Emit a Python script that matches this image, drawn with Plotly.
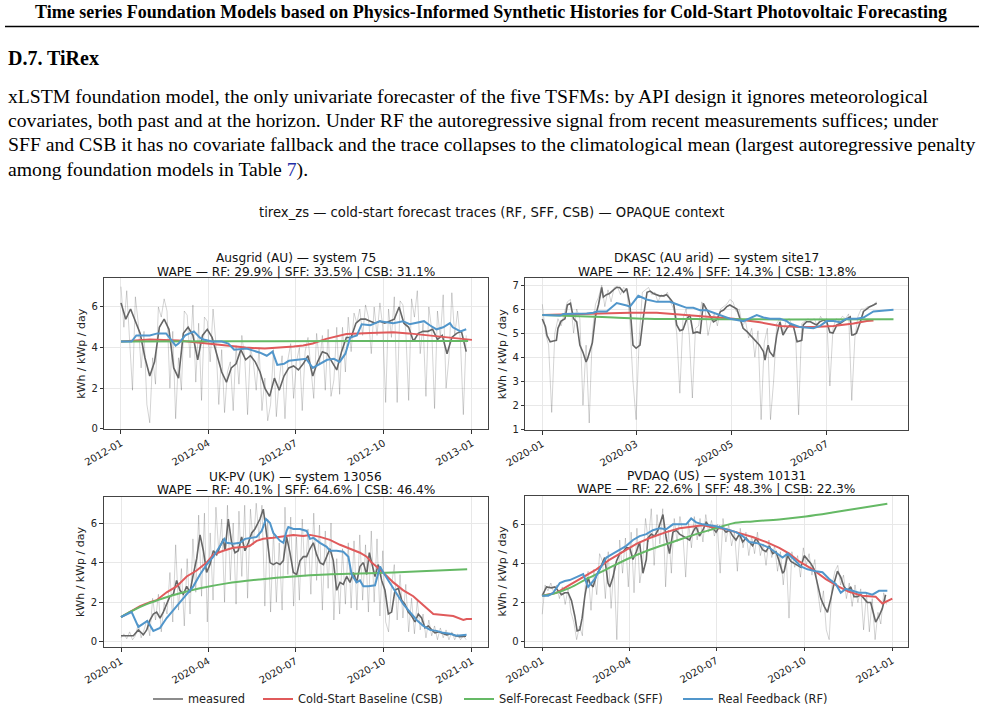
import pandas as pd
import plotly.graph_objects as go

# ------------------------------------------------------------------ data
P1_START = "2012-01-01"
P1_LIGHT = [7.0, 5.0, 6.8, 4.2, 1.9, 6.5, 5.2, 3.0, 4.8, 1.2, 0.3, 3.5, 2.2, 6.0, 5.5, 6.4, 5.8, 2.0, 4.8, 0.5,
            3.5, 1.9, 5.8, 5.6, 3.5, 6.1, 2.3, 5.2, 1.4, 5.5, 5.3, 3.3, 5.9, 4.2, 1.2, 3.9, 0.8, 2.8, 3.3, 0.9,
            4.1, 2.2, 4.6, 3.5, 0.7, 4.0, 3.3, 1.9, 4.0, 0.9, 2.5, 0.4, 1.2, 3.9, 0.6, 2.4, 3.6, 0.5, 3.4, 4.2,
            1.5, 3.3, 4.0, 0.9, 3.8, 4.5, 3.1, 1.5, 4.7, 3.2, 4.6, 1.9, 4.9, 1.6, 2.4, 5.0, 1.7, 5.0, 2.8, 5.5,
            3.8, 5.7, 5.2, 5.9, 4.6, 6.1, 5.5, 3.7, 6.0, 4.6, 6.2, 5.0, 1.3, 5.9, 4.5, 6.5, 1.3, 6.3, 6.1, 4.8,
            1.4, 6.4, 5.5, 6.8, 3.7, 5.2, 1.6, 6.0, 4.9, 1.0, 5.8, 4.5, 6.6, 2.0, 3.5, 6.7, 4.6, 5.8, 4.3, 0.7,
            4.6]
P1_LIGHT_STEP = 3
P1_DARK = [6.2, 5.4, 5.9, 5.3, 4.7, 3.5, 2.6, 3.3, 5.0, 5.4, 4.9, 3.0, 2.5, 4.7, 5.0, 4.6, 3.4, 4.6, 4.9, 4.5,
           3.6, 2.8, 2.3, 3.0, 3.2, 3.9, 3.4, 3.6, 3.3, 2.8, 2.0, 1.6, 2.5, 1.9, 2.6, 3.0, 3.1, 2.9, 3.2, 3.6,
           2.6, 3.3, 3.8, 3.7, 3.3, 2.9, 3.8, 4.5, 4.5, 5.2, 5.4, 5.4, 5.3, 5.2, 5.3, 5.2, 5.3, 5.4, 6.0, 5.2,
           5.0, 4.3, 4.7, 4.8, 4.8, 4.9, 4.4, 4.6, 3.7, 4.5, 4.7, 4.8, 3.8]
P1_DARK_STEP = 5
P1_RF_DAYS = [0, 11, 16, 30, 38, 47, 52, 57, 60, 67, 76, 82, 86, 95, 105, 112, 118, 131, 138, 145,
              152, 158, 163, 170, 175, 186, 193, 200, 207, 215, 222, 228, 234, 239, 246, 251, 260, 270, 284, 294,
              301, 312, 316, 322, 329, 336, 343, 346, 354, 360]
P1_RF = [4.3, 4.3, 4.6, 4.6, 4.7, 4.7, 4.4, 4.1, 4.2, 4.6, 4.8, 4.5, 4.4, 4.3, 4.3, 4.2, 3.9, 3.95, 3.85, 3.75,
         3.6, 3.8, 3.15, 3.2, 3.35, 3.4, 3.45, 3.0, 3.2, 3.4, 3.45, 3.3, 3.7, 4.5, 4.6, 5.15, 5.1, 5.3, 5.2, 5.3,
         5.15, 5.25, 5.3, 5.1, 4.9, 5.0, 5.2, 5.0, 4.8, 4.9]
P1_CSB_DAYS = [0, 30, 60, 90, 110, 130, 150, 170, 180, 190, 200, 214, 235, 260, 284, 300, 319, 340, 366]
P1_CSB = [4.3, 4.4, 4.35, 4.2, 4.1, 4.0, 3.95, 4.0, 4.05, 4.1, 4.2, 4.43, 4.67, 4.72, 4.75, 4.7, 4.6, 4.5, 4.38]
P1_SFF_DAYS = [0, 120, 240, 362]
P1_SFF = [4.3, 4.31, 4.32, 4.33]

P2_START = "2020-01-01"
P2_LIGHT = [6.2, 5.0, 4.5, 1.7, 5.0, 5.6, 5.3, 5.8, 6.3, 6.4, 5.0, 6.0, 5.6, 2.0, 4.5, 1.26, 5.0, 6.2, 6.5, 6.99,
            6.1, 6.8, 6.3, 6.9, 6.95, 6.6, 6.9, 6.8, 5.5, 3.0, 1.4, 4.8, 6.7, 6.8, 6.9, 6.6, 6.7, 6.3, 6.6, 6.5,
            6.7, 6.3, 6.0, 5.0, 2.5, 5.6, 6.0, 4.9, 2.3, 5.2, 5.3, 6.3, 6.1, 4.9, 5.5, 5.8, 5.3, 6.0, 6.1, 6.2,
            6.4, 6.3, 5.9, 6.0, 5.3, 5.5, 4.8, 5.2, 4.0, 5.1, 1.4, 4.6, 5.2, 1.4, 3.0, 5.4, 5.6, 5.0, 5.5, 5.6,
            5.3, 5.0, 1.6, 5.4, 5.5, 5.6, 5.5, 5.6, 5.3, 5.7, 5.5, 5.6, 2.8, 5.2, 5.6, 5.5, 5.7, 5.6, 5.8, 2.2,
            4.8, 5.7, 6.0, 6.0, 6.1, 6.1, 6.2, 6.3]
P2_LIGHT_STEP = 2
P2_DARK_DAYS = [0, 2, 3, 5, 7, 9, 10, 12, 14.5, 16, 18, 20, 22, 24, 26, 28, 29, 32, 34, 36,
                38, 39, 41, 43, 45.5, 47.5, 49.5, 52, 54, 56, 58, 60, 62.5, 64.5, 67, 69, 71, 73, 75, 77.5,
                79.5, 81.5, 84, 86, 88, 90, 92.5, 94.5, 96.5, 99, 101, 103, 105, 107, 109.5, 111.5, 114, 116, 118, 120,
                122, 124.5, 126.5, 128.5, 131, 133, 135, 137, 139, 141.5, 142.5, 143.5, 144.5, 145.5, 148, 150, 152,
                154, 156.5, 158.5, 160.5, 163, 165, 166, 167, 169, 171.5, 173.5, 175.5, 177.5, 180, 182, 184, 186,
                188.5, 190.5, 192.5, 195, 197, 198, 199, 201, 203.5, 205.5, 207.5, 209.5, 212, 214]
P2_DARK = [5.59, 5.27, 4.9, 4.64, 4.67, 4.7, 5.2, 5.5, 5.6, 6.17, 6.24, 5.6, 5.47, 4.5, 4.2, 3.8, 3.95, 4.6, 5.7, 6.2,
           6.9, 6.5, 6.6, 6.65, 6.8, 6.9, 6.9, 6.7, 6.85, 6.2, 4.5, 4.37, 4.5, 5.6, 6.7, 6.75, 6.65, 6.6, 6.55, 6.55,
           6.6, 6.45, 6.24, 5.34, 5.1, 5.15, 5.6, 5.75, 5.0, 5.05, 5.0, 6.24, 6.0, 5.75, 5.47, 5.55, 5.9, 5.96, 6.1,
           6.17, 6.1, 6.0, 5.6, 5.2, 5.06, 4.92, 4.78, 4.64, 4.5, 4.23, 3.88, 4.23, 4.5, 4.23, 4.02, 4.92, 5.47,
           4.92, 5.2, 5.34, 5.34, 4.64, 4.7, 4.7, 5.34, 5.47, 5.47, 5.4, 5.34, 5.47, 5.54, 5.47, 5.03, 5.0, 5.34,
           5.4, 5.5, 5.6, 5.68, 4.92, 4.92, 5.0, 5.47, 5.9, 6.0, 6.1, 6.17, 6.24]
P2_RF_DAYS = [0, 11.3, 13.4, 24.1, 28.4, 32.6, 34.8, 41.2, 47.6, 54, 56.1, 61.4, 66.8, 73.2, 81.7, 86, 92.4, 96.6,
              100.9, 105.2, 109.5, 113.7, 120.1, 128.7, 137.2, 141.5, 145.7, 152.1, 156.4, 158.5, 164.9, 173.5,
              177.7, 182, 186.3, 190.5, 194.8, 201.2, 205.5, 211.9, 220.4, 224.7]
P2_RF = [5.75, 5.73, 5.8, 5.8, 5.82, 5.85, 5.9, 5.9, 6.25, 6.15, 6.1, 6.55, 6.4, 6.3, 6.3, 6.2, 6.05, 6.05,
         5.95, 5.95, 5.85, 5.75, 5.6, 5.5, 5.75, 5.65, 5.6, 5.6, 5.5, 5.4, 5.25, 5.2,
         5.3, 5.5, 5.5, 5.45, 5.6, 5.6, 5.65, 5.9, 5.95, 5.97]
P2_CSB_DAYS = [0, 15.6, 30.5, 56.1, 73.2, 92.4, 105.2, 122.3, 139.3, 152.1, 164.9, 173.5, 186.3, 199.1, 207.6, 211.9]
P2_CSB = [5.75, 5.78, 5.8, 5.85, 5.85, 5.75, 5.7, 5.6, 5.45, 5.3, 5.25, 5.25, 5.3, 5.4, 5.5, 5.52]
P2_SFF_DAYS = [0, 24, 45.5, 67, 109.5, 152, 224.7]
P2_SFF = [5.75, 5.7, 5.65, 5.6, 5.58, 5.57, 5.58]

P3_START = "2020-01-01"
P3_LIGHT = [0.2, 0.4, 0.15, 0.5, 0.1, 0.3, 0.9, 0.2, 0.6, 1.1, 0.3, 2.2, 1.1, 2.4, 0.5, 2.0, 1.4, 3.5, 1.0, 4.9,
            1.6, 3.7, 0.8, 4.2, 1.4, 5.2, 2.5, 6.4, 2.3, 6.5, 1.0, 5.5, 2.1, 6.8, 4.5, 6.2, 2.0, 6.9, 3.1, 6.0,
            1.9, 6.6, 3.3, 6.9, 2.2, 6.7, 4.9, 7.0, 5.2, 6.9, 1.8, 6.2, 1.5, 5.6, 2.0, 5.0, 1.6, 6.8, 3.4, 6.3,
            1.8, 5.3, 2.1, 6.2, 3.3, 5.7, 2.4, 6.5, 3.1, 5.9, 1.6, 5.6, 2.7, 6.0, 1.1, 4.2, 1.4, 4.7, 1.9, 5.0,
            1.7, 5.1, 1.6, 5.4, 2.1, 4.9, 1.5, 5.6, 2.0, 5.2, 1.3, 4.6, 1.0, 0.5, 2.8, 3.9, 1.1, 3.4, 1.2, 2.9,
            0.5, 2.2, 0.4, 2.1, 0.6, 1.4, 0.2, 1.1, 0.3, 0.8, 0.1, 0.7, 0.2, 0.6, 0.1, 0.5, 0.1, 0.4, 0.1, 0.3,
            0.1]
P3_LIGHT_STEP = 3
P3_DARK_DAYS = [0, 12.9, 18.1, 23.3, 26.8, 30.2, 33.7, 37.2, 40.7, 44.1, 47.6, 51.1, 54.6, 58, 61.5, 65, 68.5, 71.9,
                75.4, 78.9, 82.4, 85.9, 89.3, 92.8, 96.3, 99.8, 103.2, 106.7, 108.4, 111.9, 115.4, 118.9, 122.3,
                125.8, 129.3, 132.8, 136.3, 139.7, 144.9, 148.4, 151.9, 155.4, 158.8, 162.3, 165.8, 169.3, 172.7,
                176.2, 179.7, 183.2, 186.7, 190.1, 193.6, 197.1, 200.6, 204, 207.5, 211, 214.5, 217.9, 221.4, 224.9,
                228.4, 231.8, 235.3, 238.8, 242.3, 245.7, 249.2, 252.7, 256.2, 259, 261.4, 264.9, 268.3, 271.8,
                275.3, 278.8, 282.2, 285.7, 289.2, 292.7, 296.1, 299.6, 303.1, 306.6, 310, 313.5, 317, 320.5, 324,
                327.4, 330.9, 336.1, 339.6, 344.8, 348.3, 353.5, 359.8]
P3_DARK = [0.3, 0.3, 0.6, 0.35, 0.6, 1.1, 1.4, 1.5, 1.2, 1.5, 1.9, 2.3, 2.4, 3.1, 2.6, 2.4, 2.8, 2.5, 3.4, 4.2,
           5.4, 4.6, 3.5, 3.9, 4.6, 4.4, 4.8, 5.2, 4.6, 6.2, 5.0, 4.5, 4.6, 5.3, 4.6, 5.0, 5.5, 5.7, 6.2, 6.7,
           5.4, 4.0, 3.9, 4.0, 3.9, 4.1, 5.3, 4.5, 3.5, 3.4, 4.1, 4.3, 4.3, 4.7, 5.0, 4.4, 4.0, 3.9, 4.3, 4.7,
           4.1, 2.6, 3.0, 2.9, 3.3, 3.0, 3.5, 3.0, 3.8, 4.0, 3.4, 4.5, 4.0, 3.3, 3.9, 3.1, 2.6, 1.4, 1.5, 2.6,
           2.7, 2.1, 1.9, 1.5, 1.3, 1.0, 1.4, 1.2, 0.7, 0.8, 0.6, 0.45, 0.5, 0.4, 0.35, 0.4, 0.3, 0.25, 0.28]
P3_RF_DAYS = [0, 11.1, 18.1, 27.5, 33.7, 40.7, 47.6, 54.6, 61.5, 68.5, 75.4, 82.4, 89.3, 96.3, 103.2, 107.8, 110.2,
              117.1, 124.1, 129.3, 136.3, 141.5, 146.7, 151.2, 155.4, 158.8, 165.8, 169.3, 172.7, 174.5, 179.7,
              186.7, 193.6, 197.1, 200.6, 207.5, 214.5, 217.9, 224.9, 231.8, 237.1, 240.5, 245.7, 249.2, 252.7,
              257.9, 264.9, 270.1, 273.6, 278.8, 284, 289.2, 294.4, 301.4, 308.3, 315.3, 322.2, 329.2, 336.1,
              343.1, 350, 360.4]
P3_RF = [1.25, 1.5, 0.75, 1.05, 0.55, 0.7, 1.2, 1.6, 2.0, 2.4, 2.8, 3.4, 3.9, 4.3, 4.8, 5.2, 5.0,
         4.95, 5.0, 5.2, 5.25, 5.3, 5.6, 6.2, 6.0, 5.5, 5.1, 5.0, 5.6, 5.8, 5.7,
         5.7, 5.6, 5.2, 5.25, 5.0, 4.8, 4.6, 4.6, 4.55, 4.3, 3.4, 3.0, 3.1, 2.8,
         2.8, 2.85, 3.8, 3.5, 3.1, 2.7, 2.3, 1.9, 1.5, 1.1, 0.8, 0.6, 0.55, 0.45,
         0.4, 0.3, 0.35]
P3_CSB_DAYS = [0, 11.1, 19.8, 30.2, 37.2, 47.6, 58, 68.5, 78.9, 89.3, 96.3, 106.7, 117.1, 131, 134.5, 141.5, 148.4,
               158.8, 165.8, 179.7, 190.1, 197.1, 207.5, 217.9, 228.4, 238.8, 249.2, 256.2, 261.4, 270.1, 277, 284,
               294.4, 304.8, 311.8, 318.7, 325.7, 336.1, 346.5, 357, 360.4, 366]
P3_CSB = [1.25, 1.55, 1.8, 2.0, 2.1, 2.5, 2.8, 3.3, 3.6, 4.0, 4.4, 4.6, 4.75, 4.8, 4.85, 5.1, 5.2,
          5.25, 5.3, 5.4, 5.35, 5.4, 5.3, 5.15, 4.9, 4.7, 4.5, 4.3, 4.0, 3.65, 3.3, 3.0,
          2.6, 2.3, 2.0, 1.7, 1.4, 1.35, 1.3, 1.1, 1.15, 1.15]
P3_SFF_DAYS = [0, 11.1, 26.8, 44.1, 61.5, 82.4, 110.2, 144.9, 179.7, 214.5, 249.2, 284, 318.7, 361]
P3_SFF = [1.25, 1.55, 1.9, 2.2, 2.45, 2.7, 2.95, 3.15, 3.3, 3.4, 3.45, 3.5, 3.58, 3.67]

P4_START = "2020-01-01"
P4_LIGHT = [1.4, 2.9, 2.6, 3.0, 2.5, 2.9, 2.2, 2.8, 1.9, 2.7, 1.5, 1.0, 0.1, 0.8, 0.3, 2.9, 3.6, 1.6, 3.7, 2.4,
            4.5, 4.1, 2.2, 4.6, 1.7, 3.9, 0.1, 5.2, 3.5, 5.3, 2.8, 5.6, 2.5, 5.8, 3.0, 4.0, 6.3, 5.1, 6.8, 3.9,
            6.5, 5.0, 6.8, 2.8, 5.7, 3.5, 6.3, 5.1, 6.4, 5.5, 3.3, 6.1, 4.8, 6.4, 5.2, 6.3, 5.1, 6.5, 5.6, 6.2,
            5.4, 6.0, 3.5, 6.3, 5.1, 6.0, 4.9, 5.6, 3.6, 5.8, 4.8, 5.6, 4.4, 5.4, 4.5, 5.6, 4.4, 5.0, 3.9, 5.2,
            4.3, 4.9, 3.6, 4.6, 2.9, 4.5, 1.2, 4.6, 3.8, 4.4, 3.3, 4.8, 3.9, 4.5, 3.4, 4.2, 2.6, 1.5, 2.6, 0.6,
            0.1, 2.9, 3.6, 3.9, 2.9, 3.4, 2.2, 3.0, 1.8, 2.9, 2.0, 2.7, 0.6, 2.5, 0.5, 2.2, 0.1, 1.5, 0.9, 2.5,
            1.9]
P4_LIGHT_STEP = 3
P4_DARK_DAYS = [0, 4.5, 9.7, 13.2, 16.7, 20.2, 23.6, 27.1, 30.6, 34.1, 36.5, 39.3, 41.7, 44.5, 48, 49.7, 53.2, 56.7,
                60.1, 65.3, 68.8, 70.6, 74, 77.5, 81, 84.5, 87.9, 91.4, 94.9, 98.4, 101.8, 105.3, 108.8, 110.5, 114,
                117.5, 121, 126.2, 129.6, 133.1, 136.6, 140.1, 143.6, 147, 150.5, 154, 157.5, 160.9, 164.4, 167.9,
                171.4, 174.8, 178.3, 181.8, 185.3, 188.7, 192.2, 195.7, 199.2, 202.6, 206.1, 209.6, 213.1, 216.5,
                220, 223.5, 227, 230.4, 233.9, 237.4, 240.9, 244.4, 247.8, 251.3, 253, 256.5, 260, 263.5, 266.9,
                270.4, 273.9, 277.4, 280.8, 284.3, 287.8, 291.3, 294.8, 298.2, 301.7, 305.2, 308.7, 312.1, 315.6,
                319.1, 322.6, 326, 329.5, 333, 336.5, 339.9, 343.4, 346.9, 348.6, 352.1, 355.6, 359]
P4_DARK = [2.35, 2.8, 2.75, 2.8, 2.6, 2.4, 2.5, 2.5, 2.1, 1.3, 0.55, 0.6, 1.2, 2.3, 3.3, 3.0, 2.8, 3.4, 3.7, 4.3,
           3.0, 2.8, 3.3, 4.1, 4.5, 4.6, 4.8, 4.8, 4.2, 4.6, 5.1, 3.5, 4.2, 5.3, 5.5, 5.4, 5.7, 6.5, 5.3, 4.5,
           5.6, 5.7, 5.5, 5.4, 5.3, 5.2, 5.6, 5.9, 5.4, 5.7, 6.1, 5.9, 5.8, 5.6, 5.9, 5.8, 5.6, 5.7, 5.4, 5.2,
           5.5, 5.1, 5.3, 5.1, 4.9, 5.3, 5.0, 4.7, 4.6, 4.9, 4.5, 4.6, 4.1, 3.5, 3.6, 4.4, 4.1, 4.0, 3.9, 3.8,
           4.4, 4.2, 4.0, 3.7, 3.0, 2.2, 1.8, 1.5, 2.2, 3.0, 3.6, 3.3, 2.8, 2.6, 2.8, 2.3, 2.3, 2.4, 2.2, 2.0,
           2.0, 1.3, 1.0, 1.3, 1.7, 2.4]
P4_RF_DAYS = [0, 6.3, 11.5, 18.4, 23.6, 28.8, 35.8, 42.8, 48, 54.9, 60.1, 67.1, 74, 81, 87.9, 94.9, 101.8, 108.8,
              115.7, 122.7, 129.6, 136.6, 143.6, 150.5, 155.7, 160.9, 167.9, 174.8, 181.8, 188.7, 195.7, 202.6,
              209.6, 216.5, 223.5, 230.4, 237.4, 244.4, 251.3, 256.5, 263.5, 270.4, 277.4, 286.1, 293, 300, 306.9,
              312.1, 317.3, 324.3, 331.2, 338.2, 345.2, 352.1, 360.8]
P4_RF = [2.35, 2.35, 2.5, 3.0, 3.1, 3.15, 3.3, 3.45, 2.8, 3.2, 3.7, 4.3, 4.5, 4.7, 4.9, 5.2, 5.4, 5.5,
         5.7, 5.8, 5.75, 6.0, 6.0, 6.0, 6.3, 6.1, 6.0, 5.95, 5.9, 5.8, 5.7, 5.6,
         5.4, 5.1, 5.05, 4.95, 4.8, 4.55, 4.3, 4.5, 4.2, 3.85, 3.7, 3.6, 3.55, 3.2, 2.95,
         2.5, 2.7, 2.6, 2.5, 2.5, 2.4, 2.6, 2.6]
P4_CSB_DAYS = [0, 14.9, 28.8, 42.8, 56.7, 70.6, 84.5, 98.4, 112.3, 129.6, 143.6, 157.5, 167.9, 178.3, 192.2, 206.1,
               220, 233.9, 247.8, 258.3, 268.7, 282.6, 296.5, 310.4, 320.8, 334.7, 348.6, 355.6, 366]
P4_CSB = [2.35, 2.5, 2.9, 3.3, 3.7, 4.2, 4.6, 5.0, 5.3, 5.6, 5.8, 5.9, 5.95, 5.85, 5.75, 5.55,
          5.35, 5.1, 4.8, 4.5, 4.1, 3.7, 3.2, 2.8, 2.55, 2.35, 2.3, 1.95, 2.2]
P4_SFF_DAYS = [0, 11.5, 28.8, 46.2, 67.1, 87.9, 112.3, 136.6, 160.9, 181.8, 199.2, 220, 247.8, 275.6, 303.4,
               334.7, 360.8]
P4_SFF = [2.35, 2.45, 2.75, 3.2, 3.7, 4.2, 4.7, 5.1, 5.5, 5.8, 6.05, 6.15, 6.25, 6.4, 6.6, 6.85, 7.05]

PANEL_TITLES = ["Ausgrid (AU) — system 75", "DKASC (AU arid) — system site17",
                "UK-PV (UK) — system 13056", "PVDAQ (US) — system 10131"]
PANEL_WAPE = ["WAPE — RF: 29.9% | SFF: 33.5% | CSB: 31.1%",
              "WAPE — RF: 12.4% | SFF: 14.3% | CSB: 13.8%",
              "WAPE — RF: 40.1% | SFF: 64.6% | CSB: 46.4%",
              "WAPE — RF: 22.6% | SFF: 48.3% | CSB: 22.3%"]
X_TICKS = [["2012-01-01", "2012-04-01", "2012-07-01", "2012-10-01", "2013-01-01"],
           ["2020-01-01", "2020-03-01", "2020-05-01", "2020-07-01"],
           ["2020-01-01", "2020-04-01", "2020-07-01", "2020-10-01", "2021-01-01"],
           ["2020-01-01", "2020-04-01", "2020-07-01", "2020-10-01", "2021-01-01"]]
Y_TICKS = [[0, 2, 4, 6], [1, 2, 3, 4, 5, 6, 7], [0, 2, 4, 6], [0, 2, 4, 6]]
SERIES_NAMES = ["measured", "Cold-Start Baseline (CSB)", "Self-Forecast Feedback (SFF)", "Real Feedback (RF)"]

# ------------------------------------------------------------------ layout helpers
W, H = 986, 711
def px(x):
    return x / W
def py(y):
    return 1 - y / H

def to_dates(start, days):
    return pd.Timestamp(start) + pd.to_timedelta(list(days), unit="D")

def step_days(n, step):
    return [i * step for i in range(n)]

panels = [
    dict(start=P1_START, light=(step_days(len(P1_LIGHT), P1_LIGHT_STEP), P1_LIGHT),
         dark=(step_days(len(P1_DARK), P1_DARK_STEP), P1_DARK),
         csb=(P1_CSB_DAYS, P1_CSB), sff=(P1_SFF_DAYS, P1_SFF), rf=(P1_RF_DAYS, P1_RF),
         box=(104.3, 487.7, 278.3, 429.3), xr=(-17.4, 382.4), yr=(-0.02, 7.41)),
    dict(start=P2_START, light=(step_days(len(P2_LIGHT), P2_LIGHT_STEP), P2_LIGHT),
         dark=(P2_DARK_DAYS, P2_DARK),
         csb=(P2_CSB_DAYS, P2_CSB), sff=(P2_SFF_DAYS, P2_SFF), rf=(P2_RF_DAYS, P2_RF),
         box=(525.3, 907.7, 278.3, 430.0), xr=(-10.9, 233.8), yr=(0.97, 7.28)),
    dict(start=P3_START, light=(step_days(len(P3_LIGHT), P3_LIGHT_STEP), P3_LIGHT),
         dark=(P3_DARK_DAYS, P3_DARK),
         csb=(P3_CSB_DAYS, P3_CSB), sff=(P3_SFF_DAYS, P3_SFF), rf=(P3_RF_DAYS, P3_RF),
         box=(103.5, 487.5, 496.7, 647.3), xr=(-18.25, 382.2), yr=(-0.28, 7.33)),
    dict(start=P4_START, light=(step_days(len(P4_LIGHT), P4_LIGHT_STEP), P4_LIGHT),
         dark=(P4_DARK_DAYS, P4_DARK),
         csb=(P4_CSB_DAYS, P4_CSB), sff=(P4_SFF_DAYS, P4_SFF), rf=(P4_RF_DAYS, P4_RF),
         box=(525.0, 907.7, 496.0, 646.7), xr=(-18.0, 382.1), yr=(-0.26, 7.45)),
]

COL_LIGHT = "rgba(0,0,0,0.22)"
COL_DARK = "#666666"
COL_CSB = "#e05a5b"
COL_SFF = "#65b965"
COL_RF = "#5196cb"
FIG_FONT = "DejaVu Sans"
PAGE_FONT = "Liberation Serif"

fig = go.Figure()
annotations = []

for i, p in enumerate(panels):
    k = "" if i == 0 else str(i + 1)
    xa, ya = "x" + k, "y" + k
    first = i == 0
    d, v = p["light"]
    fig.add_trace(go.Scatter(x=to_dates(p["start"], d), y=v, mode="lines", xaxis=xa, yaxis=ya,
                             line=dict(color=COL_LIGHT, width=0.8), showlegend=False, hoverinfo="skip"))
    d, v = p["dark"]
    fig.add_trace(go.Scatter(x=to_dates(p["start"], d), y=v, mode="lines", xaxis=xa, yaxis=ya,
                             name=SERIES_NAMES[0], legend="legend",
                             line=dict(color=COL_DARK, width=1.6), showlegend=first))
    d, v = p["csb"]
    fig.add_trace(go.Scatter(x=to_dates(p["start"], d), y=v, mode="lines", xaxis=xa, yaxis=ya,
                             name=SERIES_NAMES[1], legend="legend2",
                             line=dict(color=COL_CSB, width=2.0), showlegend=first))
    d, v = p["sff"]
    fig.add_trace(go.Scatter(x=to_dates(p["start"], d), y=v, mode="lines", xaxis=xa, yaxis=ya,
                             name=SERIES_NAMES[2], legend="legend3",
                             line=dict(color=COL_SFF, width=2.0, shape="spline"), showlegend=first))
    d, v = p["rf"]
    fig.add_trace(go.Scatter(x=to_dates(p["start"], d), y=v, mode="lines", xaxis=xa, yaxis=ya,
                             name=SERIES_NAMES[3], legend="legend4",
                             line=dict(color=COL_RF, width=2.0), showlegend=first))

    x0, x1, y0, y1 = p["box"]
    start = pd.Timestamp(p["start"])
    xr = [start + pd.Timedelta(days=p["xr"][0]), start + pd.Timedelta(days=p["xr"][1])]
    fig.layout["xaxis" + k] = dict(
        domain=[px(x0), px(x1)], anchor=ya, range=xr, type="date", automargin=False,
        tickvals=X_TICKS[i], ticktext=[t[:7] for t in X_TICKS[i]], tickangle=-30,
        ticks="outside", ticklen=3.5, tickwidth=0.8, tickcolor="#333",
        showline=True, mirror=True, linecolor="#444", linewidth=1,
        showgrid=True, gridcolor="#e8e8e8", gridwidth=0.8, zeroline=False,
        tickfont=dict(family=FIG_FONT, size=10, color="#222"))
    fig.layout["yaxis" + k] = dict(
        domain=[py(y1), py(y0)], anchor=xa, range=list(p["yr"]), automargin=False,
        tickvals=Y_TICKS[i], ticks="outside", ticklen=3.5, tickwidth=0.8, tickcolor="#333",
        showline=True, mirror=True, linecolor="#444", linewidth=1,
        showgrid=True, gridcolor="#e8e8e8", gridwidth=0.8, zeroline=False,
        tickfont=dict(family=FIG_FONT, size=10, color="#222"),
        title=dict(text="kWh / kWp / day", font=dict(family=FIG_FONT, size=11, color="#222"), standoff=3))
    cx = (x0 + x1) / 2
    annotations.append(dict(x=px(cx), y=py(y0 - 20), xref="paper", yref="paper", text=PANEL_TITLES[i],
                            showarrow=False, xanchor="center", yanchor="middle",
                            font=dict(family=FIG_FONT, size=12.2, color="#111")))
    annotations.append(dict(x=px(cx), y=py(y0 - 6.8), xref="paper", yref="paper", text=PANEL_WAPE[i],
                            showarrow=False, xanchor="center", yanchor="middle",
                            font=dict(family=FIG_FONT, size=12.2, color="#111")))

# figure suptitle
annotations.append(dict(x=px(491), y=py(212), xref="paper", yref="paper",
                        text="tirex_zs — cold-start forecast traces (RF, SFF, CSB) — OPAQUE context",
                        showarrow=False, xanchor="center", yanchor="middle",
                        font=dict(family=FIG_FONT, size=13.2, color="#111")))

# page text
annotations.append(dict(x=px(491), y=py(12), xref="paper", yref="paper",
                        text="<b>Time series Foundation Models based on Physics-Informed Synthetic Histories for Cold-Start Photovoltaic Forecasting</b>",
                        showarrow=False, xanchor="center", yanchor="middle",
                        font=dict(family=PAGE_FONT, size=18, color="#000")))
annotations.append(dict(x=px(6), y=py(58), xref="paper", yref="paper", text="<b>D.7. TiRex</b>",
                        showarrow=False, xanchor="left", yanchor="middle",
                        font=dict(family=PAGE_FONT, size=20, color="#000")))
PARA = ["xLSTM foundation model, the only univariate forecaster of the five TSFMs: by API design it ignores meteorological",
        "covariates, both past and at the horizon. Under RF the autoregressive signal from recent measurements suffices; under",
        "SFF and CSB it has no covariate fallback and the trace collapses to the climatological mean (largest autoregressive penalty",
        "among foundation models in Table <span style='color:#1f2fa8'>7</span>)."]
for j, line in enumerate(PARA):
    annotations.append(dict(x=px(6), y=py(96 + 24.4 * j), xref="paper", yref="paper", text=line,
                            showarrow=False, xanchor="left", yanchor="middle",
                            font=dict(family=PAGE_FONT, size=19.7, color="#000")))

fig.update_layout(
    width=W, height=H, margin=dict(l=0, r=0, t=0, b=0, autoexpand=False),
    paper_bgcolor="white", plot_bgcolor="white",
    annotations=annotations,
    shapes=[dict(type="line", xref="paper", yref="paper", x0=px(5), x1=px(979), y0=py(26.5), y1=py(26.5),
                 line=dict(color="#000", width=1.6))],
)
leg_common = dict(orientation="h", yanchor="middle", xanchor="left", bgcolor="rgba(0,0,0,0)",
                  font=dict(family=FIG_FONT, size=11.4, color="#222"), borderwidth=0)
fig.update_layout(
    legend=dict(x=px(190 - 42), y=py(699), **leg_common),
    legend2=dict(x=px(300 - 42), y=py(699), **leg_common),
    legend3=dict(x=px(501 - 42), y=py(699), **leg_common),
    legend4=dict(x=px(720 - 42), y=py(699), **leg_common),
)

fig.write_html("out.html")
